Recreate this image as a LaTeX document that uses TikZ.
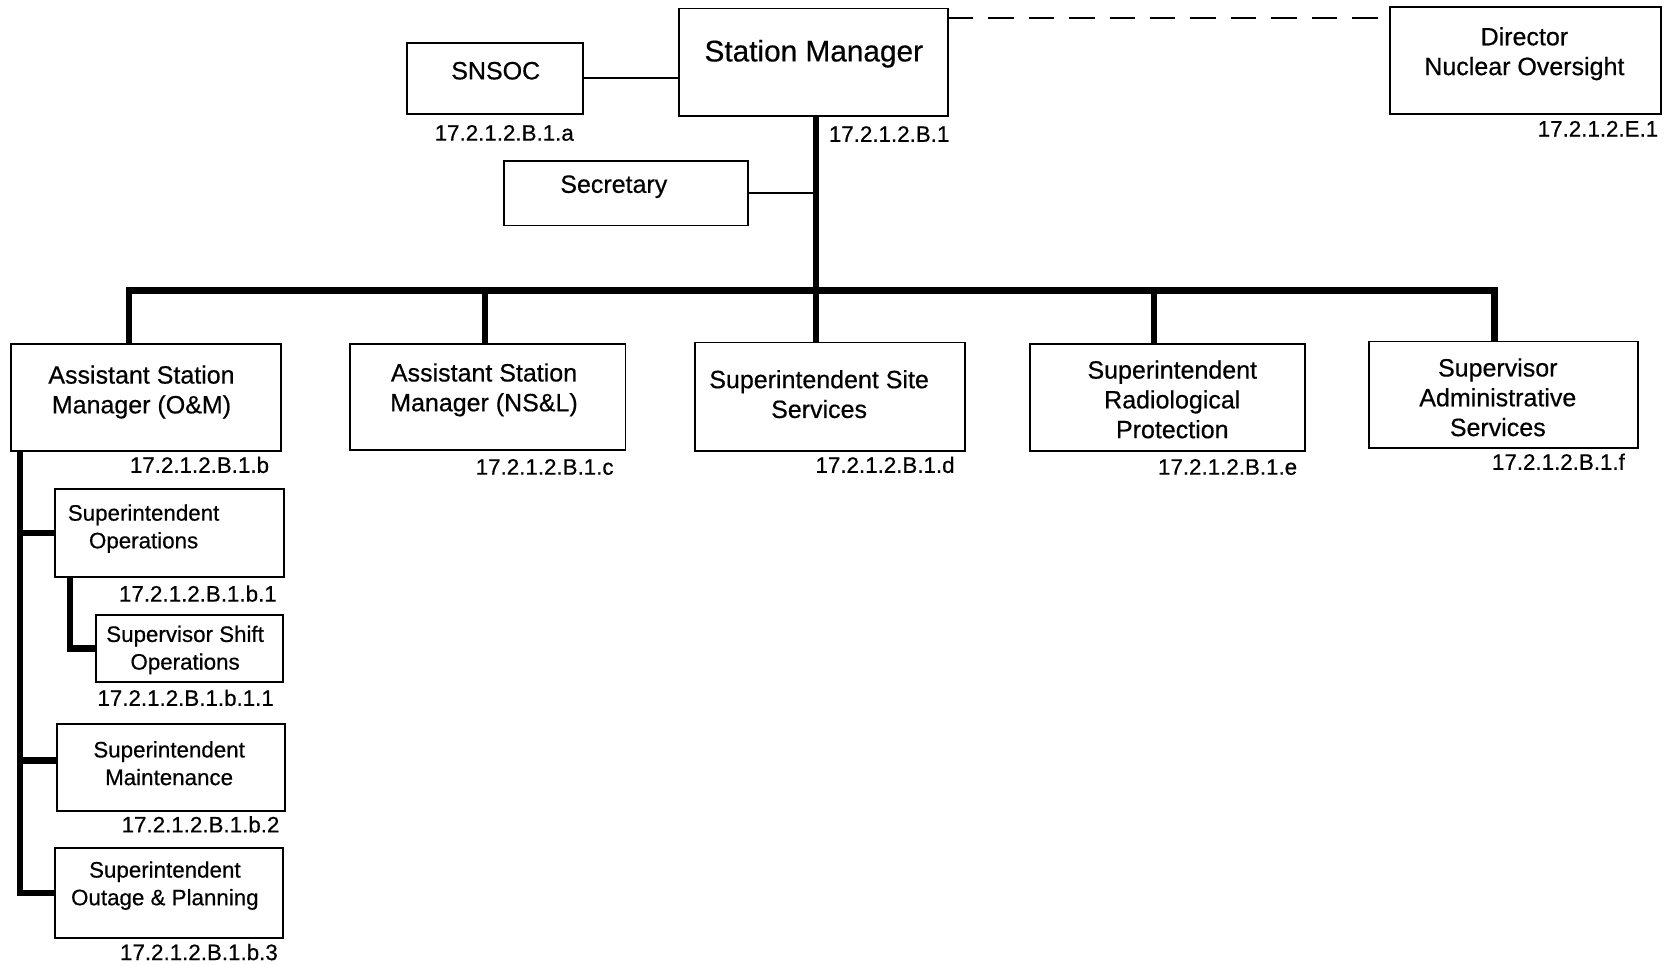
\documentclass[tikz,border=0pt]{standalone}
\usepackage{fontspec}
\setmainfont{Liberation Sans}[FakeBold=0.5]
\begin{document}
\begin{tikzpicture}[x=1pt,y=-1pt,
  box/.style={draw, line width=1.8pt, inner sep=0pt, outer sep=0pt, anchor=north west},
  txt/.style={font=\fontsize{23.5}{28}\selectfont, align=center, inner sep=0pt, yshift=-2.5pt},
  bigtxt/.style={font=\fontsize{28}{32}\selectfont, align=center, inner sep=0pt, yshift=-2.5pt},
  smalltxt/.style={font=\fontsize{21}{26}\selectfont, align=center, inner sep=0pt, yshift=-2pt},
  code/.style={font=\fontsize{21}{24}\selectfont, inner sep=0pt, yshift=-1pt},
  bus/.style={line width=6pt, line join=miter},
  link/.style={line width=1.5pt},
  dashlink/.style={line width=1.8pt, dash pattern=on 24pt off 14pt}]
\useasboundingbox (0,0) rectangle (1568,907);

% top level
\node[box, minimum width=253, minimum height=101] (sm) at (638,8) {};
\node[bigtxt] (smt) at (765,48) {Station Manager};
\node[code, anchor=west] (smc) at (779,125) {17.2.1.2.B.1};

\node[box, minimum width=165, minimum height=67] (snsoc) at (383,40) {};
\node[txt] (snsoct) at (466,64) {SNSOC};
\node[code] (snsocc) at (474,124) {17.2.1.2.B.1.a};

\node[box, minimum width=254, minimum height=100] (dir) at (1307,7) {};
\node[txt] (dirt) at (1433,48) {Director\\Nuclear Oversight};
\node[code, anchor=east] (dirc) at (1559,120) {17.2.1.2.E.1};

\node[box, minimum width=229, minimum height=61] (sec) at (474,151) {};
\node[txt] (sect) at (577,173) {Secretary};

% second row
\node[box, minimum width=254, minimum height=101] (asmom) at (10,323) {};
\node[txt] (asmomt) at (133,366) {Assistant Station\\Manager (O\&M)};
\node[code] (asmomc) at (187.5,436) {17.2.1.2.B.1.b};

\node[box, minimum width=259, minimum height=100] (asmns) at (329,323) {};
\node[txt] (asmnst) at (455,364) {Assistant Station\\Manager (NS\&L)};
\node[code] (asmnsc) at (512,438) {17.2.1.2.B.1.c};

\node[box, minimum width=254, minimum height=102] (sss) at (653,322) {};
\node[txt] (ssst) at (770,368) {Superintendent Site\\Services};
\node[code] (sssc) at (832,436) {17.2.1.2.B.1.d};

\node[box, minimum width=259, minimum height=101] (srp) at (968,323) {};
\node[txt] (srpt) at (1102,373) {Superintendent\\Radiological\\Protection};
\node[code] (srpc) at (1154,438) {17.2.1.2.B.1.e};

\node[box, minimum width=253, minimum height=100] (sas) at (1287,321) {};
\node[txt] (sast) at (1408,371) {Supervisor\\Administrative\\Services};
\node[code] (sasc) at (1465,433) {17.2.1.2.B.1.f};

% left subtree
\node[box, minimum width=215, minimum height=82] (sops) at (52,460) {};
\node[smalltxt] (sopst) at (135,495) {Superintendent\\Operations};
\node[code] (sopsc) at (186,557) {17.2.1.2.B.1.b.1};

\node[box, minimum width=176, minimum height=63] (shift) at (90,578) {};
\node[smalltxt] (shiftt) at (174,609) {Supervisor Shift\\Operations};
\node[code] (shiftc) at (174.5,655) {17.2.1.2.B.1.b.1.1};

\node[box, minimum width=214, minimum height=81] (smnt) at (54,681) {};
\node[smalltxt] (smntt) at (159,715.5) {Superintendent\\Maintenance};
\node[code] (smntc) at (188.5,774) {17.2.1.2.B.1.b.2};

\node[box, minimum width=214, minimum height=85] (sop) at (52,797) {};
\node[smalltxt] (sopt) at (155,830.5) {Superintendent\\Outage \& Planning};
\node[code] (sopc) at (187,894) {17.2.1.2.B.1.b.3};

% coordinates
\coordinate (dl) at (0,17);
\coordinate (tr) at (767,0);
\coordinate (bL) at (121,273);
\coordinate (bR) at (1405,273);
\coordinate (d2) at (456,273);
\coordinate (d4) at (1085,273);
\coordinate (tk) at (19,0);
\coordinate (sx) at (66,0);
\coordinate (bm) at ([yshift=6.5pt]smnt.west);

% connectors
\draw[dashlink] (sm.east |- dl) -- (dir.west |- dl);
\draw[link] (snsoc.east) -- (snsoc.east -| sm.west);
\draw[link] (sec.east) -- (sec.east -| tr);
\draw[bus] (sm.south -| tr) -- (sss.north -| tr);
\draw[bus] (asmom.north -| bL) -- (bL) -- (bR) -- (sas.north -| bR);
\draw[bus] (d2) -- (asmns.north -| d2);
\draw[bus] (d4) -- (srp.north -| d4);

\draw[bus] (asmom.south -| tk) -- (tk |- sop.west) -- (sop.west);
\draw[bus] (tk |- sops.west) -- (sops.west);
\draw[bus] (tk |- bm) -- (bm);
\draw[bus] (sops.south -| sx) -- (sx |- shift.west) -- (shift.west);
\end{tikzpicture}
\end{document}
